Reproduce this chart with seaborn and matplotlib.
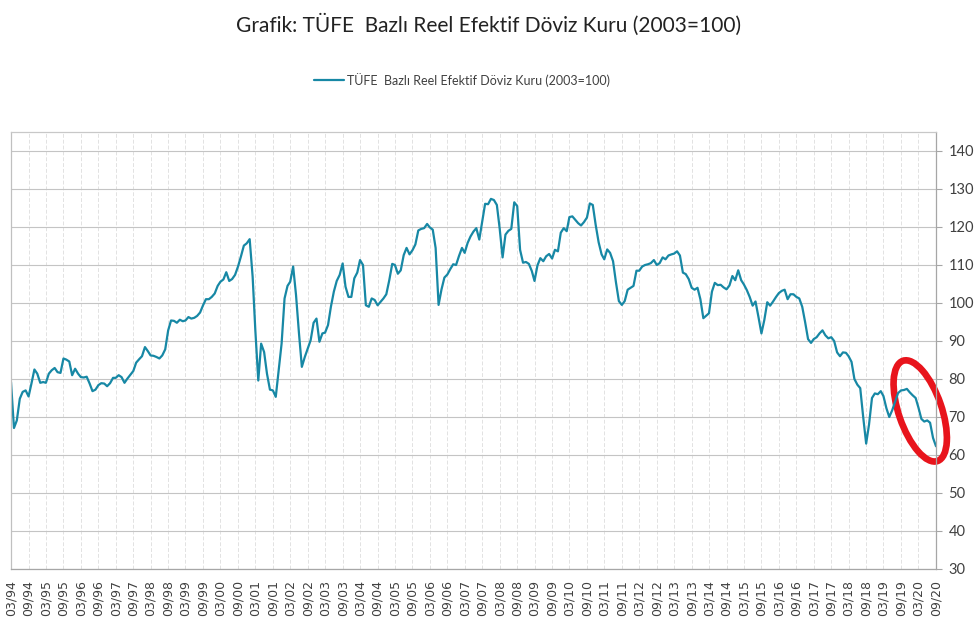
import pandas as pd
import seaborn as sns
import matplotlib.pyplot as plt
import matplotlib.transforms as mtransforms
from matplotlib.patches import Ellipse

# --- veri: aylık TÜFE bazlı reel efektif döviz kuru (03/1994 - 09/2020) ---
start_month = '1994-03-01'
reer_values = [
    79.2, 67.1, 69.1, 74.8, 76.6, 77.0, 75.4, 78.8, 82.5, 81.4,
    79.0, 79.2, 79.0, 81.4, 82.3, 82.9, 81.8, 81.6, 85.4, 85.1,
    84.6, 81.0, 82.7, 81.4, 80.5, 80.4, 80.6, 78.8, 76.8, 77.2,
    78.4, 78.9, 78.8, 78.1, 78.9, 80.3, 80.3, 81.0, 80.5, 79.0,
    80.1, 81.1, 82.1, 84.3, 85.2, 86.0, 88.4, 87.3, 86.2, 86.1,
    85.8, 85.4, 86.2, 87.8, 92.8, 95.4, 95.3, 94.8, 95.6, 95.2,
    95.4, 96.3, 95.9, 96.1, 96.6, 97.5, 99.4, 101.0, 101.0, 101.6,
    102.5, 104.5, 105.6, 106.2, 108.1, 105.8, 106.3, 107.4, 109.6, 112.2,
    115.1, 115.7, 116.8, 106.9, 92.9, 79.6, 89.3, 87.1, 81.4, 77.2,
    77.0, 75.3, 82.3, 89.3, 101.2, 104.5, 105.6, 109.6, 102.1, 92.0,
    83.2, 85.8, 88.0, 90.2, 94.8, 95.9, 89.8, 92.0, 92.2, 94.2,
    99.0, 103.0, 105.8, 107.4, 110.4, 104.3, 101.6, 101.6, 106.5, 108.0,
    111.3, 110.0, 99.4, 99.0, 101.2, 100.8, 99.4, 100.3, 101.2, 102.3,
    106.0, 110.3, 110.0, 107.7, 108.6, 112.6, 114.5, 112.8, 113.9, 115.4,
    119.1, 119.5, 119.7, 120.8, 119.9, 119.3, 114.5, 99.5, 103.5, 106.7,
    107.5, 108.9, 110.2, 110.0, 112.4, 114.5, 113.2, 115.8, 117.5, 118.8,
    119.7, 116.7, 121.5, 126.1, 126.0, 127.4, 127.1, 125.8, 119.7, 112.0,
    118.0, 119.0, 119.5, 126.5, 125.5, 114.0, 110.6, 110.8, 110.3, 108.4,
    105.8, 109.9, 111.8, 111.0, 112.3, 112.9, 111.7, 114.0, 113.6, 118.5,
    119.7, 118.9, 122.6, 122.8, 121.9, 121.0, 120.4, 121.3, 122.5, 126.2,
    125.8, 120.6, 116.0, 112.8, 111.5, 114.1, 113.2, 111.0, 105.5, 100.5,
    99.5, 100.5, 103.5, 104.0, 104.5, 108.5, 108.5, 109.6, 110.0, 110.2,
    110.5, 111.3, 110.0, 110.5, 112.0, 111.5, 112.5, 112.8, 113.0, 113.6,
    112.5, 108.0, 107.6, 106.3, 104.0, 103.5, 104.0, 101.0, 96.0, 96.7,
    97.3, 103.0, 105.3, 104.7, 104.8, 104.1, 103.6, 104.6, 107.1, 106.0,
    108.6, 106.0, 104.9, 103.4, 101.6, 99.3, 100.4, 96.3, 92.0, 95.5,
    100.2, 99.3, 100.4, 101.6, 102.6, 103.2, 103.5, 101.0, 102.3, 102.3,
    101.6, 101.2, 99.0, 95.0, 90.5, 89.5, 90.5, 91.0, 92.0, 92.8,
    91.5, 90.7, 91.0, 90.0, 87.0, 86.0, 87.0, 86.9, 86.0, 84.5,
    80.0, 78.5, 77.6, 70.0, 63.0, 68.0, 75.0, 76.2, 76.0, 76.8,
    75.5, 72.3, 70.0, 71.8, 74.0, 76.3, 77.0, 77.1, 77.4, 76.5,
    75.7, 75.0, 72.5, 69.5, 68.8, 69.1, 68.5, 64.5, 62.3,
]
y_ticks = [30, 40, 50, 60, 70, 80, 90, 100, 110, 120, 130, 140]

series_name = 'TÜFE  Bazlı Reel Efektif Döviz Kuru (2003=100)'
title_text = 'Grafik: TÜFE  Bazlı Reel Efektif Döviz Kuru (2003=100)'

dates = pd.date_range(start_month, periods=len(reer_values), freq='MS')
df = pd.DataFrame({'Tarih': dates, 'Deger': reer_values})
tick_dates = pd.date_range(dates[0], dates[-1], freq='6MS')

# --- stil ---
sns.set_style('white')
plt.rcParams['font.family'] = ['Lato', 'DejaVu Sans']

line_color = '#1788a5'
axis_color = '#a6a6a6'
text_color = '#404040'

fig = plt.figure(figsize=(9.77, 6.39), dpi=100)
ax = fig.add_axes([11 / 977, 70 / 639, 925 / 977, 437 / 639])

sns.lineplot(data=df, x='Tarih', y='Deger', ax=ax, color=line_color,
             linewidth=1.6, label=series_name)

ax.set_xlim(dates[0], dates[-1])
ax.set_ylim(30, 145)
ax.set_yticks(y_ticks)
ax.set_xticks(tick_dates)
ax.set_xticklabels([d.strftime('%m/%y') for d in tick_dates], rotation=90,
                   fontsize=9, color=text_color, family='DejaVu Sans')
ax.set_xlabel('')
ax.set_ylabel('')

ax.yaxis.tick_right()
ax.tick_params(axis='y', labelsize=10.5, colors=text_color, length=4,
               width=0.8, direction='out', pad=5)
ax.tick_params(axis='y', color=axis_color)
ax.tick_params(axis='x', length=5, width=0.8, direction='out', color=axis_color, pad=3)

# ızgara
ax.grid(axis='y', color='#c4c4c4', linewidth=0.8, linestyle='-')
ax.grid(axis='x', color='#e2e2e2', linewidth=0.7, linestyle=(0, (4, 2)))
ax.set_axisbelow(True)

for side in ['left', 'right', 'top', 'bottom']:
    ax.spines[side].set_visible(True)
    ax.spines[side].set_color(axis_color)
    ax.spines[side].set_linewidth(0.9)
ax.spines['top'].set_color('#c8c8c8')
ax.spines['left'].set_color('#c0c0c0')

# lejant ve başlık
leg = ax.legend(loc='center', bbox_to_anchor=(0.473, 0.875),
                bbox_transform=fig.transFigure, frameon=False, fontsize=9,
                handlelength=2.4, handletextpad=0.2)
for t in leg.get_texts():
    t.set_color(text_color)

fig.text(0.5, 0.961, title_text, ha='center', va='center', fontsize=15,
         color='#222222')

# kırmızı elips vurgusu (son dönem düşüş)
ellipse_center = (pd.Timestamp('2020-03-20'), 71.6)
offset = mtransforms.ScaledTranslation(
    ax.xaxis.convert_units(ellipse_center[0]), ellipse_center[1], ax.transData)
ell = Ellipse((0, 0), width=0.43, height=1.06, angle=19, fill=False,
              edgecolor='#e8141c', linewidth=4.8,
              transform=fig.dpi_scale_trans + offset, clip_on=False)
ax.add_patch(ell)

plt.savefig('out.png', dpi=100)
